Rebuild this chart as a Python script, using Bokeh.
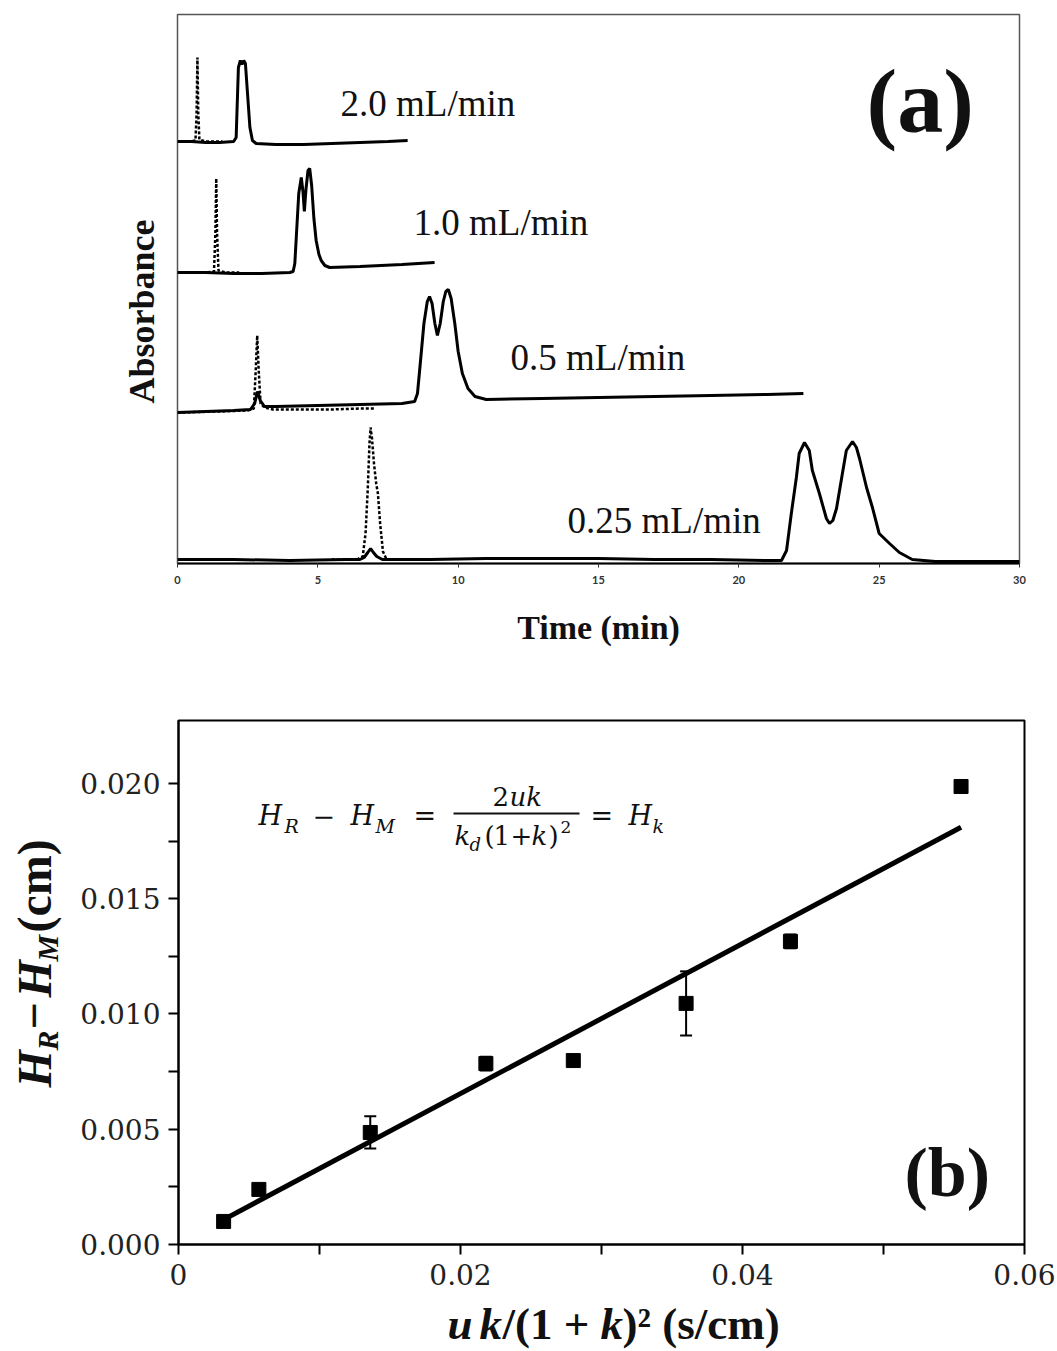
import math
from bokeh.plotting import figure
from bokeh.models import (Label, Range1d, FixedTicker, Whisker, ColumnDataSource,
                          NumeralTickFormatter, BoxAnnotation, TeeHead)
from bokeh.layouts import column, row
from bokeh.embed import file_html
from bokeh.resources import INLINE

# ---------------- Panel (a): chromatograms (time / min, absorbance / a.u., stacked) ----------------
flow_rates = ["2.0 mL/min", "1.0 mL/min", "0.5 mL/min", "0.25 mL/min"]

t_20_solid = [0, 0.5, 1.0, 1.5, 2.0, 2.09, 2.17, 2.24, 2.30, 2.36, 2.42, 2.50, 2.58, 2.67, 2.8, 3.5, 4.5, 5.5, 6.5, 7.5, 8.2]
a_20_solid = [422, 422, 421, 421, 422, 426, 496, 503, 499, 503, 500, 468, 436, 423, 420, 419, 419, 420, 421, 422, 423]
t_20_dash = [0, 0.4, 0.64, 0.68, 0.71, 0.74, 0.78, 1.0, 1.6]
a_20_dash = [422, 422, 423, 450, 506, 450, 424, 422, 422]

t_10_solid = [0, 1.0, 2.0, 3.0, 4.0, 4.12, 4.18, 4.24, 4.32, 4.41, 4.47, 4.52, 4.58, 4.65, 4.71, 4.78, 4.86, 4.94, 5.04, 5.12, 5.25, 5.42, 6.5, 8.0, 9.16]
a_10_solid = [291, 291, 290, 290, 291, 292, 300, 330, 370, 386, 372, 352, 375, 393, 395, 378, 345, 323, 309, 303, 298, 296, 297, 299, 301]
t_10_dash = [0, 1.0, 1.30, 1.35, 1.38, 1.41, 1.46, 1.7, 2.2]
a_10_dash = [291, 291, 292, 330, 385, 330, 293, 291, 291]

t_05_solid = [0, 1.0, 2.0, 2.6, 2.75, 2.85, 2.95, 3.1, 3.5, 5.0, 6.5, 8.0, 8.45, 8.55, 8.65, 8.78, 8.9, 8.98, 9.07, 9.17, 9.26, 9.36, 9.47, 9.56, 9.65, 9.75, 9.88, 10.0, 10.15, 10.35, 10.6, 11.0, 13, 15, 17, 19, 21, 22.3]
a_05_solid = [151, 152, 153, 154, 160, 172, 163, 157, 157, 158, 159, 160, 162, 170, 200, 240, 262, 267, 260, 240, 228, 240, 262, 272, 274, 265, 240, 212, 190, 175, 167, 164, 165, 166, 167, 168, 169, 170]
t_05_dash = [0, 1.5, 2.5, 2.72, 2.79, 2.84, 2.89, 2.96, 3.1, 3.4, 4.5, 5.5, 6.5, 7.0]
a_05_dash = [151, 152, 153, 155, 195, 228, 195, 160, 156, 154, 154, 154, 155, 155]

t_025_solid = [0, 2, 4, 6, 6.5, 6.65, 6.78, 6.88, 6.98, 7.1, 7.3, 7.6, 9, 11, 13, 15, 17, 19, 21, 21.52, 21.7, 21.87, 22.05, 22.15, 22.34, 22.51, 22.62, 22.87, 23.12, 23.23, 23.35, 23.48, 23.69, 23.83, 24.05, 24.19, 24.3, 24.55, 24.76, 25.0, 25.37, 25.72, 26.18, 27, 28, 29, 30]
a_025_solid = [4, 4, 3, 4, 4, 6, 11, 15, 11, 7, 4, 4, 4, 5, 5, 5, 4, 4, 3, 3, 13, 50, 86, 110, 121, 113, 93, 70, 45, 40, 43, 55, 90, 113, 122, 116, 105, 76, 56, 30, 20, 11, 4, 2, 2, 2, 2]
t_025_dash = [5.5, 6.4, 6.6, 6.7, 6.78, 6.84, 6.88, 6.93, 7.0, 7.08, 7.14, 7.22, 7.32, 7.45, 8.0]
a_025_dash = [4, 4, 7, 30, 75, 120, 136, 125, 100, 80, 70, 40, 12, 4, 4]

time_ticks = [0, 5, 10, 15, 20, 25, 30]

# ---------------- Panel (b): plate height difference vs u k/(1+k)^2 ----------------
x_b = [0.0032, 0.0057, 0.0136, 0.0218, 0.0280, 0.0360, 0.0434, 0.0555]
y_b = [0.00100, 0.00239, 0.00486, 0.00785, 0.00798, 0.01046, 0.01315, 0.01987]
err_b = [0.0, 0.0, 0.0007, 0.0003, 0.0, 0.00139, 0.0003, 0.0]
fit_x = [0.0028, 0.0555]
fit_y = [0.00095, 0.0181]
x_ticks_b = [0, 0.02, 0.04, 0.06]
x_minor_b = [0.01, 0.03, 0.05]
y_ticks_b = [0, 0.005, 0.010, 0.015, 0.020]
y_minor_b = [0.0025, 0.0075, 0.0125, 0.0175]

# ---------------- layout geometry (page pixels, page origin = canvas origin) ----------------
PAGE_W = 1057
HA, HB, HX = 652, 648, 51          # heights of the three rows
YLA_W, YLB_W = 160, 70             # widths of side text panels
A_LEFT, A_TOP, A_W, A_H = 177, 14, 842, 549
B_LEFT, B_TOP, B_W, B_H = 178, 720, 846, 524
XB1, YB1 = 0.06, 0.022733
MID = 0.34                          # "middle" anchor sits this many em above the baseline


def a_xy(px, py):
    return ((px - A_LEFT) / A_W * 30.0, (A_TOP + A_H) - py)


def b_xy(px, py):
    return ((px - B_LEFT) / B_W * XB1, (B_TOP + B_H - py) / B_H * YB1)


def lab(p, xy, text, size, style="normal", font="Liberation Serif", align="left",
        angle=0.0, color="#111111"):
    p.add_layout(Label(x=xy[0], y=xy[1], text=text, text_font=font,
                       text_font_size=f"{size}px", text_font_style=style,
                       text_align=align, text_baseline="middle", angle=angle,
                       text_color=color))


def text_panel(w, h, frame_h=None):
    # in a row, the side panel's frame is aligned with its neighbour's frame,
    # so its y range spans that frame's pixel height
    f = figure(width=w, height=h, x_range=Range1d(0, w),
               y_range=Range1d(0, frame_h if frame_h else h),
               output_backend="svg", toolbar_location=None, x_axis_location=None,
               y_axis_location=None, min_border=0)
    f.grid.visible = False
    f.outline_line_color = None
    return f


# ---------------- figure (a) ----------------
pa_w = PAGE_W - YLA_W
pa = figure(width=pa_w, height=HA, x_range=Range1d(0, 30), y_range=Range1d(0, A_H),
            output_backend="svg", toolbar_location=None, y_axis_location=None,
            min_border_left=A_LEFT - YLA_W, min_border_right=pa_w - (A_LEFT - YLA_W) - A_W,
            min_border_top=A_TOP, min_border_bottom=HA - A_TOP - A_H)
pa.grid.visible = False
pa.outline_line_color = "#555555"
pa.outline_line_width = 1.5
ax = pa.xaxis[0]
ax.ticker = FixedTicker(ticks=time_ticks)
ax.axis_line_color = "black"
ax.axis_line_width = 2
ax.major_tick_out = 4
ax.major_tick_in = 0
ax.major_tick_line_color = "#333333"
ax.minor_tick_line_color = None
ax.major_label_text_font = "Lato"
ax.major_label_text_font_style = "bold"
ax.major_label_text_font_size = "11px"
ax.major_label_text_color = "#333333"
ax.major_label_standoff = 8
ax.axis_label = "Time (min)"
ax.axis_label_text_font = "Liberation Serif"
ax.axis_label_text_font_style = "bold"
ax.axis_label_text_font_size = "34px"
ax.axis_label_text_color = "#111111"
ax.axis_label_standoff = 22

dashed = [(t_20_dash, a_20_dash), (t_10_dash, a_10_dash), (t_05_dash, a_05_dash), (t_025_dash, a_025_dash)]
solid = [(t_20_solid, a_20_solid), (t_10_solid, a_10_solid), (t_05_solid, a_05_solid), (t_025_solid, a_025_solid)]
for t, a in dashed:
    pa.line(t, a, line_color="black", line_width=2.5, line_dash="3 2")
for t, a in solid:
    pa.line(t, a, line_color="black", line_width=3)

rate_pos = [(340, 103), (413, 222), (510, 357), (567, 520)]
for txt, (px, py) in zip(flow_rates, rate_pos):
    lab(pa, a_xy(px, py), txt, 37)
lab(pa, a_xy(866, 100), "(a)", 92, style="bold")

yla = text_panel(YLA_W, HA, A_H)
lab(yla, (141, (A_TOP + A_H) - 311), "Absorbance", 36, style="bold", align="center", angle=math.pi / 2)

# ---------------- figure (b) ----------------
pb_w = PAGE_W - YLB_W
pb = figure(width=pb_w, height=HB, x_range=Range1d(0, XB1), y_range=Range1d(0, YB1),
            output_backend="svg", toolbar_location=None,
            min_border_left=B_LEFT - YLB_W, min_border_right=pb_w - (B_LEFT - YLB_W) - B_W,
            min_border_top=B_TOP - HA, min_border_bottom=HB - (B_TOP - HA) - B_H)
pb.grid.visible = False
pb.outline_line_color = "black"
pb.outline_line_width = 2
for axis in (pb.xaxis[0], pb.yaxis[0]):
    axis.axis_line_color = "black"
    axis.axis_line_width = 2
    axis.major_tick_out = 10
    axis.major_tick_in = 0
    axis.minor_tick_out = 10
    axis.minor_tick_in = 0
    axis.major_tick_line_width = 2
    axis.minor_tick_line_width = 2
    axis.major_tick_line_color = "black"
    axis.minor_tick_line_color = "black"
    axis.major_label_text_font = "DejaVu Serif"
    axis.major_label_text_font_size = "28px"
    axis.major_label_text_color = "#222222"
    axis.major_label_standoff = 8
pb.xaxis[0].major_label_standoff = 9
pb.xaxis[0].ticker = FixedTicker(ticks=x_ticks_b, minor_ticks=x_minor_b)
pb.xaxis[0].formatter = NumeralTickFormatter(format="0.00")
pb.xaxis[0].major_label_overrides = {0: "0"}
pb.yaxis[0].ticker = FixedTicker(ticks=y_ticks_b, minor_ticks=y_minor_b)
pb.yaxis[0].formatter = NumeralTickFormatter(format="0.000")

pb.line(fit_x, fit_y, line_color="black", line_width=5)
ex = [x for x, e in zip(x_b, err_b) if e > 0]
ey = [y for y, e in zip(y_b, err_b) if e > 0]
ee = [e for e in err_b if e > 0]
src = ColumnDataSource(dict(x=ex, lo=[y - e for y, e in zip(ey, ee)], hi=[y + e for y, e in zip(ey, ee)]))
pb.add_layout(Whisker(source=src, base="x", lower="lo", upper="hi", line_width=2, line_color="black",
                      lower_head=TeeHead(size=12, line_width=2, line_color="black"),
                      upper_head=TeeHead(size=12, line_width=2, line_color="black")))
pb.scatter(x_b, y_b, marker="square", size=14, color="black")

# formula  H_R - H_M = 2uk / (k_d (1+k)^2) = H_k     (x, baseline, size, style)
MF = "DejaVu Serif"
for txt, px, base, size, style in [
    ("H", 258, 824, 27, "italic"), ("R", 284, 832, 19, "italic"),
    ("\u2212", 312, 824, 27, "normal"),
    ("H", 350, 824, 27, "italic"), ("M", 375, 832, 19, "italic"),
    ("=", 413, 824, 27, "normal"),
    ("2", 492, 805, 26, "normal"), ("uk", 509, 805, 26, "italic"),
    ("k", 454, 844, 26, "italic"), ("d", 469, 850, 18, "italic"),
    ("(", 484, 844, 26, "normal"), ("1", 493, 844, 26, "normal"),
    ("+", 510, 844, 26, "normal"), ("k", 531, 844, 26, "italic"),
    (")", 548, 844, 26, "normal"), ("2", 560, 832, 17, "normal"),
    ("=", 590, 824, 27, "normal"),
    ("H", 628, 824, 27, "italic"), ("k", 652, 832, 19, "italic"),
]:
    lab(pb, b_xy(px, base - MID * size), txt, size, style=style, font=MF)
l0, t0 = b_xy(453, 812)
r0, b0 = b_xy(579, 814)
pb.add_layout(BoxAnnotation(left=l0, right=r0, bottom=b0, top=t0, fill_color="#111111",
                            fill_alpha=1.0, line_color=None))

lab(pb, b_xy(904, 1172), "(b)", 70, style="bold")

# y-axis title  H_R - H_M (cm)  (rotated, reading upward)
ylb = text_panel(YLB_W, HB, B_H)
YF, YS = 48, 30
for txt, start, size, style, base_x in [
    ("H", 1087, YF, "bold italic", 50), ("R", 1050, YS, "bold italic", 57),
    ("\u2212", 1029, YF, "bold", 50),
    ("H", 997, YF, "bold italic", 50), ("M", 961, YS, "bold italic", 57),
    ("(cm)", 932, YF, "bold", 50),
]:
    lab(ylb, (base_x - MID * size, (B_TOP + B_H) - start), txt, size, style=style, angle=math.pi / 2)

# x-axis title  u k/(1 + k)^2 (s/cm)
xl = text_panel(PAGE_W, HX)
XF = 45
X_TOP = HA + HB
for txt, px, style in [
    ("u", 447, "bold italic"), ("k", 479, "bold italic"),
    ("/(1 + ", 502, "bold"), ("k", 600, "bold italic"),
    (")\u00b2  (s/cm)", 622, "bold"),
]:
    lab(xl, (px, HX - (1339 - MID * XF - X_TOP)), txt, XF, style=style)

layout = column(row(yla, pa), row(ylb, pb), xl)
open("out.html", "w").write(file_html(layout, INLINE))
